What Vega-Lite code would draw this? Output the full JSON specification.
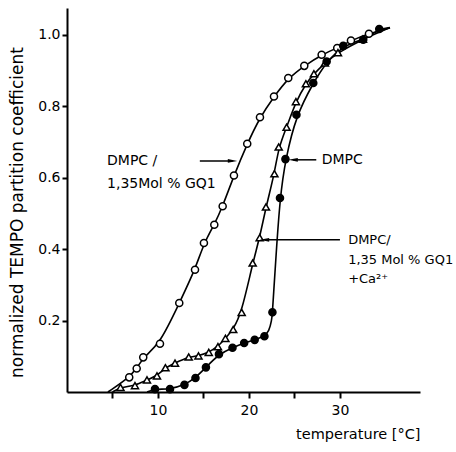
{
  "$schema": "https://vega.github.io/schema/vega-lite/v6.json",
  "width": 353,
  "height": 384,
  "autosize": "none",
  "padding": {"left": 67, "top": 8, "right": 36, "bottom": 60},
  "background": "white",
  "config": {
    "view": {"stroke": null},
    "font": "DejaVu Sans",
    "axis": {
      "grid": false,
      "domainColor": "black",
      "domainWidth": 2,
      "tickColor": "black",
      "tickWidth": 2,
      "labelColor": "black",
      "titleColor": "black",
      "labelFont": "DejaVu Sans",
      "titleFont": "DejaVu Sans",
      "labelFontSize": 14,
      "titleFontWeight": "normal"
    }
  },
  "datasets": {
    "pts": [
      {"s": "A", "T": 4.5, "v": 0.0, "m": 0},
      {"s": "A", "T": 6.84, "v": 0.041, "m": 1},
      {"s": "A", "T": 7.66, "v": 0.066, "m": 1},
      {"s": "A", "T": 8.38, "v": 0.097, "m": 1},
      {"s": "A", "T": 10.22, "v": 0.135, "m": 1},
      {"s": "A", "T": 12.34, "v": 0.249, "m": 1},
      {"s": "A", "T": 14.07, "v": 0.342, "m": 1},
      {"s": "A", "T": 15.05, "v": 0.417, "m": 1},
      {"s": "A", "T": 16.19, "v": 0.468, "m": 1},
      {"s": "A", "T": 17.11, "v": 0.52, "m": 1},
      {"s": "A", "T": 18.35, "v": 0.606, "m": 1},
      {"s": "A", "T": 19.81, "v": 0.695, "m": 1},
      {"s": "A", "T": 21.21, "v": 0.769, "m": 1},
      {"s": "A", "T": 22.75, "v": 0.827, "m": 1},
      {"s": "A", "T": 24.32, "v": 0.879, "m": 1},
      {"s": "A", "T": 26.08, "v": 0.913, "m": 1},
      {"s": "A", "T": 27.99, "v": 0.944, "m": 1},
      {"s": "A", "T": 29.7, "v": 0.963, "m": 1},
      {"s": "A", "T": 31.21, "v": 0.984, "m": 1},
      {"s": "A", "T": 33.19, "v": 1.003, "m": 1},
      {"s": "A", "T": 35.5, "v": 1.02, "m": 0},

      {"s": "B", "T": 5.0, "v": 0.0, "m": 0},
      {"s": "B", "T": 5.88, "v": 0.013, "m": 1},
      {"s": "B", "T": 7.47, "v": 0.018, "m": 1},
      {"s": "B", "T": 8.79, "v": 0.034, "m": 1},
      {"s": "B", "T": 9.89, "v": 0.045, "m": 1},
      {"s": "B", "T": 10.82, "v": 0.068, "m": 1},
      {"s": "B", "T": 11.87, "v": 0.081, "m": 1},
      {"s": "B", "T": 13.38, "v": 0.098, "m": 1},
      {"s": "B", "T": 14.45, "v": 0.101, "m": 1},
      {"s": "B", "T": 15.58, "v": 0.111, "m": 1},
      {"s": "B", "T": 16.59, "v": 0.127, "m": 1},
      {"s": "B", "T": 17.41, "v": 0.15, "m": 1},
      {"s": "B", "T": 18.27, "v": 0.175, "m": 1},
      {"s": "B", "T": 19.2, "v": 0.223, "m": 1},
      {"s": "B", "T": 20.41, "v": 0.361, "m": 1},
      {"s": "B", "T": 21.18, "v": 0.432, "m": 1},
      {"s": "B", "T": 21.87, "v": 0.518, "m": 1},
      {"s": "B", "T": 22.8, "v": 0.611, "m": 1},
      {"s": "B", "T": 23.27, "v": 0.686, "m": 1},
      {"s": "B", "T": 24.14, "v": 0.741, "m": 1},
      {"s": "B", "T": 25.16, "v": 0.813, "m": 1},
      {"s": "B", "T": 26.26, "v": 0.863, "m": 1},
      {"s": "B", "T": 27.14, "v": 0.891, "m": 1},
      {"s": "B", "T": 28.35, "v": 0.921, "m": 1},
      {"s": "B", "T": 29.78, "v": 0.95, "m": 1},
      {"s": "B", "T": 32.53, "v": 0.988, "m": 1},
      {"s": "B", "T": 35.5, "v": 1.02, "m": 0},

      {"s": "C", "T": 8.8, "v": 0.0, "m": 0},
      {"s": "C", "T": 9.67, "v": 0.008, "m": 1},
      {"s": "C", "T": 11.32, "v": 0.008, "m": 1},
      {"s": "C", "T": 12.91, "v": 0.02, "m": 1},
      {"s": "C", "T": 14.12, "v": 0.039, "m": 1},
      {"s": "C", "T": 15.27, "v": 0.069, "m": 1},
      {"s": "C", "T": 16.7, "v": 0.106, "m": 1},
      {"s": "C", "T": 18.19, "v": 0.124, "m": 1},
      {"s": "C", "T": 19.47, "v": 0.137, "m": 1},
      {"s": "C", "T": 20.63, "v": 0.146, "m": 1},
      {"s": "C", "T": 21.7, "v": 0.156, "m": 1},
      {"s": "C", "T": 22.2, "v": 0.17, "m": 0},
      {"s": "C", "T": 22.5, "v": 0.2, "m": 0},
      {"s": "C", "T": 22.58, "v": 0.223, "m": 1},
      {"s": "C", "T": 22.7, "v": 0.272, "m": 0},
      {"s": "C", "T": 22.97, "v": 0.38, "m": 0},
      {"s": "C", "T": 23.41, "v": 0.543, "m": 1},
      {"s": "C", "T": 24.01, "v": 0.652, "m": 1},
      {"s": "C", "T": 25.22, "v": 0.776, "m": 1},
      {"s": "C", "T": 27.07, "v": 0.865, "m": 1},
      {"s": "C", "T": 28.54, "v": 0.925, "m": 1},
      {"s": "C", "T": 30.36, "v": 0.969, "m": 1},
      {"s": "C", "T": 32.56, "v": 0.986, "m": 1},
      {"s": "C", "T": 34.32, "v": 1.016, "m": 1},
      {"s": "C", "T": 35.5, "v": 1.02, "m": 0}
    ],
    "ann": [
      {"T": 4.4, "v": 0.647, "t": "DMPC /", "fs": 14},
      {"T": 4.4, "v": 0.583, "t": "1,35Mol % GQ1", "fs": 14},
      {"T": 28.0, "v": 0.65, "t": "DMPC", "fs": 14},
      {"T": 30.9, "v": 0.426, "t": "DMPC/", "fs": 13},
      {"T": 30.9, "v": 0.37, "t": "1,35 Mol % GQ1", "fs": 13},
      {"T": 30.9, "v": 0.317, "t": "+Ca²⁺", "fs": 13}
    ],
    "arrows": [
      {"T": 14.6, "T2": 18.2, "v": 0.647, "dir": "right"},
      {"T": 27.4, "T2": 24.85, "v": 0.65, "dir": "left"},
      {"T": 30.0, "T2": 21.7, "v": 0.426, "dir": "left"}
    ]
  },
  "layer": [
    {
      "data": {"name": "pts"},
      "mark": {"type": "line", "interpolate": "basis", "color": "black", "strokeWidth": 1.6},
      "encoding": {
        "x": {
          "field": "T", "type": "quantitative",
          "scale": {"domain": [0, 38.8], "nice": false, "zero": false},
          "axis": {
            "values": [5, 10, 15, 20, 25, 30],
            "labelExpr": "datum.value % 10 == 0 ? datum.value : ''",
            "tickSize": 6,
            "labelPadding": 5,
            "title": "temperature [°C]",
            "titleAnchor": "end",
            "titleFontSize": 14.5,
            "titlePadding": 10
          }
        },
        "y": {
          "field": "v", "type": "quantitative",
          "scale": {"domain": [0, 1.075], "nice": false},
          "axis": {
            "values": [0.2, 0.4, 0.6, 0.8, 1.0],
            "format": ".1f",
            "tickSize": 5,
            "labelPadding": 2,
            "title": "normalized TEMPO partition coefficient",
            "titleFontSize": 17,
            "titleX": -50,
            "titleY": 204,
            "titleAngle": -90,
            "titleAlign": "center",
            "titleBaseline": "middle"
          }
        },
        "detail": {"field": "s"}
      }
    },
    {
      "data": {"name": "pts"},
      "transform": [{"filter": "datum.m == 1"}],
      "mark": {"type": "point", "filled": true, "stroke": "black", "strokeWidth": 1.5, "size": 50, "opacity": 1},
      "encoding": {
        "x": {"field": "T", "type": "quantitative"},
        "y": {"field": "v", "type": "quantitative"},
        "shape": {"field": "s", "scale": {"domain": ["A", "B", "C"], "range": ["circle", "triangle-up", "circle"]}, "legend": null},
        "fill": {"field": "s", "scale": {"domain": ["A", "B", "C"], "range": ["white", "white", "black"]}, "legend": null}
      }
    },
    {
      "data": {"name": "arrows"},
      "mark": {"type": "rule", "color": "black", "strokeWidth": 1.5},
      "encoding": {
        "x": {"field": "T", "type": "quantitative"},
        "x2": {"field": "T2"},
        "y": {"field": "v", "type": "quantitative"}
      }
    },
    {
      "data": {"name": "arrows"},
      "transform": [{"filter": "datum.dir == 'right'"}],
      "mark": {"type": "point", "filled": true, "color": "black", "size": 90, "opacity": 1, "shape": "M-1,-0.4L1,0L-1,0.4Z"},
      "encoding": {
        "x": {"field": "T2", "type": "quantitative"},
        "y": {"field": "v", "type": "quantitative"}
      }
    },
    {
      "data": {"name": "arrows"},
      "transform": [{"filter": "datum.dir == 'left'"}],
      "mark": {"type": "point", "filled": true, "color": "black", "size": 90, "opacity": 1, "shape": "M1,-0.4L-1,0L1,0.4Z"},
      "encoding": {
        "x": {"field": "T2", "type": "quantitative"},
        "y": {"field": "v", "type": "quantitative"}
      }
    },
    {
      "data": {"name": "ann"},
      "mark": {"type": "text", "align": "left", "baseline": "middle", "font": "DejaVu Sans", "color": "black"},
      "encoding": {
        "x": {"field": "T", "type": "quantitative"},
        "y": {"field": "v", "type": "quantitative"},
        "text": {"field": "t"},
        "size": {"field": "fs", "type": "quantitative", "scale": null}
      }
    }
  ]
}
